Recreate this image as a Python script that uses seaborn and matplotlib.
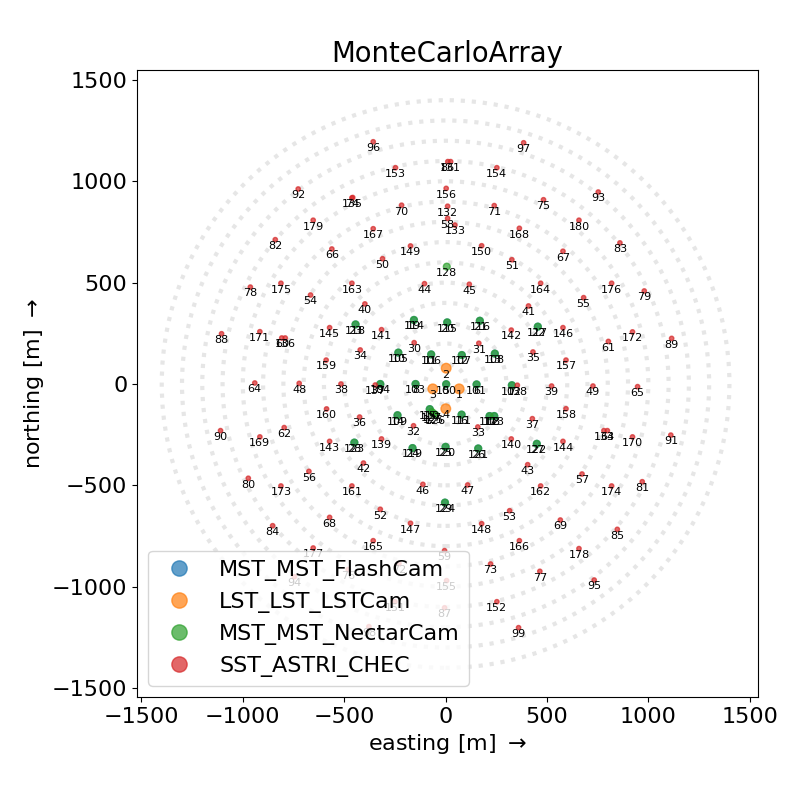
import numpy as np
import pandas as pd
import matplotlib
matplotlib.use("Agg")
import matplotlib.pyplot as plt
import seaborn as sns
from matplotlib.lines import Line2D
from matplotlib.patches import Circle

# ---------------- data (metres) ----------------
lst_ids = [1, 2, 3, 4]
lst_x = [67, 3, -63, 1]
lst_y = [-24, 78, -24, -122]

flash_ids = list(range(5, 30))
flash_x = [3, 153, 327, -148, -322, -233, -71, 80, 243, -237, -78, 79, 217, 240,
           -156, 8, 169, 455, -444, -163, 0, 161, 450, -450, -3]
flash_y = [-1, -2, -6, 0, 0, 155, 146, 143, 150, -154, -124, -151, -158, -158,
           316, 304, 312, 283, 294, -316, -310, -318, -295, -289, -585]

nectar_ids = list(range(100, 129))
nectar_x = [3, 153, 327, -148, -322, -233, -71, 80, 243, -237, -78, 79, 217, 240,
            -156, 8, 169, 455, -444, -163, 0, 161, 450, -450, -3, -60, -50, -68, 6]
nectar_y = [-1, -2, -6, 0, 0, 155, 146, 143, 150, -154, -124, -151, -158, -158,
            316, 304, 312, 283, 294, -316, -310, -318, -295, -289, -585, -145, -152, -138, 579]

sst_ids = list(range(30, 100)) + [131, 132, 133, 134, 135, 136] + list(range(137, 181))
sst_x = [-155, 164, -158, 159, -421, 431, -424, 428, -516, 523,
         -398, 409, -405, 405, -104, 117, -112, 109, -722, 727,
         -311, 327, -322, 316, -666, 681, -674, 673, 10, -5,
         -808, 803, -796, 798, -941, 947, -561, 579, -572, 566,
         -217, 240, -230, 222, -462, 483, -480, 465, -963, 980,
         -973, 970, -840, 860, -853, 847, 11, -5, -1105, 1115,
         -1110, 1111, -727, 753, -746, 733, -357, 385, -378, 360,
         25, 10, 46, 781, -458, -791,
         -347, 354, -316, 324, -316, 324, -572, 579, -572, 579,
         -173, 178, -173, 178, -250, 253, -247, 253, 5, 3,
         594, 594, -589, -587, -462, 469, -462, 469, -357, 364,
         -357, 364, -916, 922, -916, 922, -812, 819, -812, 819,
         -653, 658, -653, 658]
sst_y = [204, 201, -206, -212, 168, 158, -163, -171, 0, -10,
         395, 385, -390, -398, 495, 492, -495, -498, 3, -10,
         618, 613, -618, -625, 439, 426, -431, -444, 817, -822,
         227, 210, -215, -230, 5, -13, 666, 655, -658, -671,
         882, 880, -885, -888, 918, 909, -915, -924, 478, 459,
         -465, -482, 712, 696, -699, -717, 1097, -1104, 248, 225,
         -230, -252, 962, 947, -951, -967, 1195, 1190, -1197, -1202,
         1097, 877, 784, -230, 920, 227,
         -5, -6, -271, -271, 268, 266, -283, -283, 278, 278,
         -687, -689, 681, 682, -1074, -1074, 1067, 1067, -970, 965,
         118, -122, 118, -123, -503, -503, 497, 497, -773, -773,
         766, 768, -261, -261, 258, 257, -503, -503, 497, 497,
         -809, -812, 808, 808]

type_order = ["MST_MST_FlashCam", "LST_LST_LSTCam", "MST_MST_NectarCam", "SST_ASTRI_CHEC"]
ring_radii = [100, 200, 300, 400, 500, 600, 700, 800, 900, 1000, 1100, 1200, 1300, 1400]

# ---------------- table ----------------
frames = [
    pd.DataFrame({"tel_id": lst_ids, "x": lst_x, "y": lst_y, "type": "LST_LST_LSTCam"}),
    pd.DataFrame({"tel_id": flash_ids, "x": flash_x, "y": flash_y, "type": "MST_MST_FlashCam"}),
    pd.DataFrame({"tel_id": nectar_ids, "x": nectar_x, "y": nectar_y, "type": "MST_MST_NectarCam"}),
    pd.DataFrame({"tel_id": sst_ids, "x": sst_x, "y": sst_y, "type": "SST_ASTRI_CHEC"}),
]
df = pd.concat(frames, ignore_index=True).sort_values("tel_id").reset_index(drop=True)

palette = dict(zip(type_order, sns.color_palette("tab10", 4)))
sizes = {"MST_MST_FlashCam": 24, "LST_LST_LSTCam": 48, "MST_MST_NectarCam": 24, "SST_ASTRI_CHEC": 10}

plt.rcParams["font.size"] = 16
plt.rcParams["font.family"] = ["DejaVu Sans"]

fig = plt.figure(figsize=(8, 8), dpi=100)
ax = fig.add_axes([137 / 800, 103 / 800, 621 / 800, 627 / 800])

for r in ring_radii:
    ax.add_patch(Circle((0, 0), r, fill=False, ls=":", lw=3, color="#e6e6e6", zorder=0.5))

ecolors = [palette[t] for t in df["type"]]
sns.scatterplot(data=df, x="x", y="y", hue="type", hue_order=type_order, palette=palette,
                size="type", sizes=sizes, legend=False, alpha=0.7,
                edgecolor=ecolors, linewidth=1.0, ax=ax, zorder=2)

for tid, x, y in zip(df["tel_id"], df["x"], df["y"]):
    ax.annotate(str(tid), xy=(x, y), xytext=(0, -1), textcoords="offset points",
                ha="center", va="top", fontsize=8, zorder=3)

ax.set_xlim(-1522, 1541)
ax.set_ylim(-1544, 1549)
ax.set_xticks([-1500, -1000, -500, 0, 500, 1000, 1500])
ax.set_yticks([-1500, -1000, -500, 0, 500, 1000, 1500])
ax.set_xlabel("easting [m] $\\rightarrow$", fontsize=16)
ax.set_ylabel("northing [m] $\\rightarrow$", fontsize=16)
ax.set_title("MonteCarloArray", fontsize=19.8)

handles = [Line2D([], [], marker="o", ls="", color=palette[t], alpha=0.7,
                  markersize=11, label=t) for t in type_order]
leg = ax.legend(handles=handles, loc="lower left", fontsize=16)
leg.set_zorder(5)

fig.savefig("out.png", dpi=100)
